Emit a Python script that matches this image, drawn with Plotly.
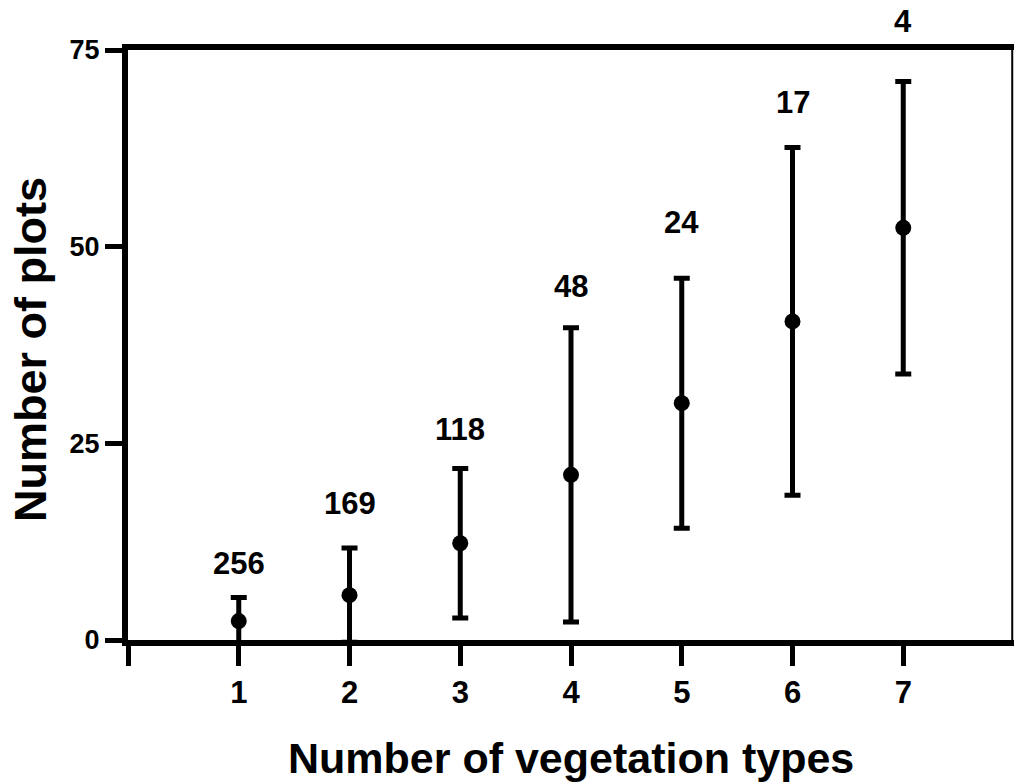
import plotly.graph_objects as go

# Data
veg_types = [1, 2, 3, 4, 5, 6, 7]
mean_plots = [2.4, 5.7, 12.3, 21.0, 30.1, 40.5, 52.4]
sd_plots = [3.0, 6.0, 9.5, 18.7, 15.9, 22.1, 18.6]
n_labels = ["256", "169", "118", "48", "24", "17", "4"]
n_label_y = [9.7, 17.4, 26.7, 44.9, 53.1, 68.3, 78.6]
x_tickvals = [0, 1, 2, 3, 4, 5, 6, 7]
x_ticktext = ["", "1", "2", "3", "4", "5", "6", "7"]
y_tickvals = [0, 25, 50, 75]

FONT = "Liberation Sans"
Y_MIN, Y_MAX = 0, 75

fig = go.Figure()
fig.add_trace(go.Scatter(
    x=veg_types, y=mean_plots, mode="markers",
    marker=dict(color="black", size=16),
    error_y=dict(type="data", array=sd_plots, visible=True,
                 color="black", thickness=5, width=8),
    showlegend=False,
))

# sample-size labels (paper-referenced vertically so the one above the frame shows)
for xv, lab, yv in zip(veg_types, n_labels, n_label_y):
    fig.add_annotation(x=xv, xref="x", y=(yv - Y_MIN) / (Y_MAX - Y_MIN), yref="paper",
                       text=lab, showarrow=False,
                       font=dict(family=FONT, size=31, color="black", weight="bold"),
                       xanchor="center", yanchor="middle")

fig.add_annotation(xref="paper", yref="paper", x=0.5, y=-0.2,
                   text="Number of vegetation types", showarrow=False,
                   font=dict(family=FONT, size=43, color="black", weight="bold"),
                   xanchor="center", yanchor="middle")
fig.add_annotation(xref="paper", yref="paper", x=-0.1106, y=0.4915,
                   text="Number of plots", showarrow=False, textangle=-90,
                   font=dict(family=FONT, size=45, color="black", weight="bold"),
                   xanchor="center", yanchor="middle")

# thin right border
fig.add_shape(type="line", xref="paper", yref="paper", x0=0.998, x1=0.998,
              y0=0, y1=1, line=dict(color="black", width=2))

fig.update_xaxes(range=[0, 8], tickvals=x_tickvals, ticktext=x_ticktext,
                 showline=True, linecolor="black", linewidth=6, mirror=True,
                 ticks="outside", ticklen=20, tickwidth=5, tickcolor="black",
                 showgrid=False, zeroline=False,
                 tickfont=dict(family=FONT, size=31, color="black", weight="bold"))
fig.update_yaxes(range=[Y_MIN, Y_MAX], tickvals=y_tickvals,
                 showline=True, linecolor="black", linewidth=6,
                 ticks="outside", ticklen=17, tickwidth=5, tickcolor="black",
                 showgrid=False, zeroline=False,
                 tickfont=dict(family=FONT, size=27, color="black", weight="bold"))

fig.update_layout(width=1014, height=782,
                  margin=dict(l=128, r=0, t=50, b=142),
                  paper_bgcolor="white", plot_bgcolor="white")

fig.write_html("out.html",
               config={"displayModeBar": False},
               post_script="document.body.style.margin='0';document.body.style.overflow='hidden';")
